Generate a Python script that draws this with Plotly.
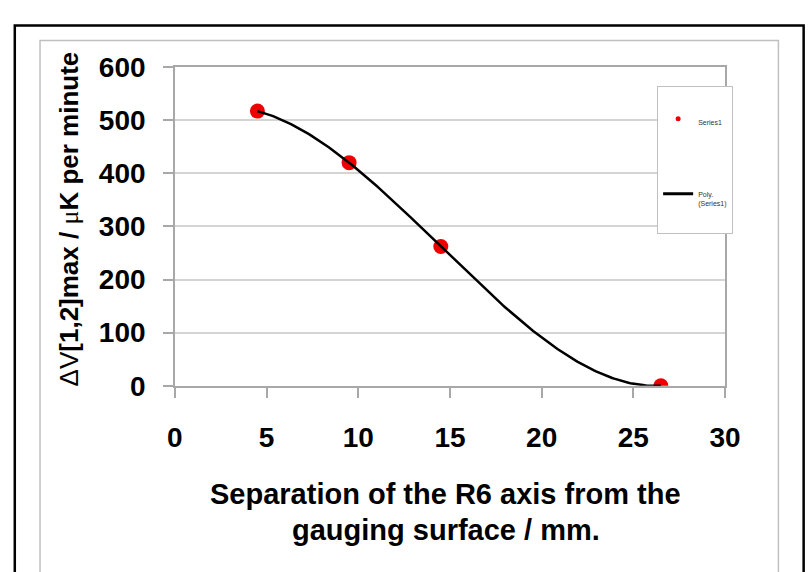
import numpy as np
import plotly.graph_objects as go

# Data
separation_mm = [4.5, 9.5, 14.5, 26.5]
delta_v_max = [517, 420, 262, 0]
series_name = "Series1"
trend_name = "Poly.<br>(Series1)<br> <br> "
x_tick_vals = [0, 5, 10, 15, 20, 25, 30]
y_tick_vals = [0, 100, 200, 300, 400, 500, 600]

W, H = 808, 572

# polynomial (order 3) trendline computed from the data
coef = np.polyfit(separation_mm, delta_v_max, 3)
xs = np.linspace(min(separation_mm), max(separation_mm), 200)
ys = np.polyval(coef, xs)

FONT = "Liberation Sans"

fig = go.Figure()
fig.add_trace(go.Scatter(
    x=separation_mm, y=delta_v_max, mode="markers", name=series_name,
    marker=dict(color="#ee0000", size=15, line=dict(width=0)),
    showlegend=False,
))
fig.add_trace(go.Scatter(
    x=xs, y=ys, mode="lines", name=trend_name,
    line=dict(color="black", width=2.5), showlegend=False,
))
# legend-only entries (Excel style small legend)
fig.add_trace(go.Scatter(
    x=[None], y=[None], mode="markers", name=series_name,
    marker=dict(color="#ee0000", size=5), legendgroup="a",
))
fig.add_trace(go.Scatter(
    x=[None], y=[None], mode="lines", name=trend_name,
    line=dict(color="black", width=3), legendgroup="b",
))

def px(xp):
    return xp / W

def py(yp):
    return 1 - yp / H

axis_common = dict(
    showline=True, linecolor="#a8a8a8", linewidth=1.5, mirror=True,
    ticks="outside", ticklen=10, tickcolor="#a8a8a8", tickwidth=1.5,
    tickfont=dict(family=FONT, size=28, color="black", weight="bold"),
    zeroline=False,
)

fig.update_layout(
    width=W, height=H,
    margin=dict(l=0, r=0, t=0, b=0),
    paper_bgcolor="white", plot_bgcolor="white",
    xaxis=dict(domain=[px(172), px(739)], range=[0, 30], tickvals=x_tick_vals,
               showgrid=False, ticklabelstandoff=16, **axis_common),
    yaxis=dict(domain=[py(392), py(55)], range=[0, 600], tickvals=y_tick_vals,
               showgrid=True, gridcolor="#d4d4d4", gridwidth=2,
               ticklabelstandoff=12, **axis_common),
    showlegend=True,
    legend=dict(x=px(669), y=py(75), xanchor="left", yanchor="top",
                bordercolor="#c0c0c0", borderwidth=1, bgcolor="white",
                font=dict(family=FONT, size=7, color="#333333"),
                title=dict(text=" ", font=dict(size=16)),
                tracegroupgap=56, itemwidth=30, valign="top"),
    shapes=[
        dict(type="rect", xref="paper", yref="paper", x0=px(7), x1=px(820),
             y0=py(600), y1=py(11), line=dict(color="black", width=2.5),
             layer="below"),
        dict(type="rect", xref="paper", yref="paper", x0=px(33), x1=px(794),
             y0=py(600), y1=py(27), line=dict(color="#c0c0c0", width=1.5),
             layer="below"),
    ],
    annotations=[
        dict(text="<b>Separation of the R6 axis from the</b>", x=px(451), y=py(506),
             xref="paper", yref="paper", showarrow=False,
             xanchor="center", yanchor="middle",
             font=dict(family=FONT, size=29, color="black")),
        dict(text="<b>gauging surface / mm.</b>", x=px(451), y=py(545),
             xref="paper", yref="paper", showarrow=False,
             xanchor="center", yanchor="middle",
             font=dict(family=FONT, size=29, color="black")),
        dict(text="ΔV<b>[1,2]max / </b><span style='font-family:Liberation Serif'>μ</span><b>K per minute</b>",
             x=px(63), y=py(216), xanchor="center", yanchor="middle",
             xref="paper", yref="paper", showarrow=False, textangle=-90,
             font=dict(family=FONT, size=26, color="black")),
    ],
)

fig.write_html("out.html")
